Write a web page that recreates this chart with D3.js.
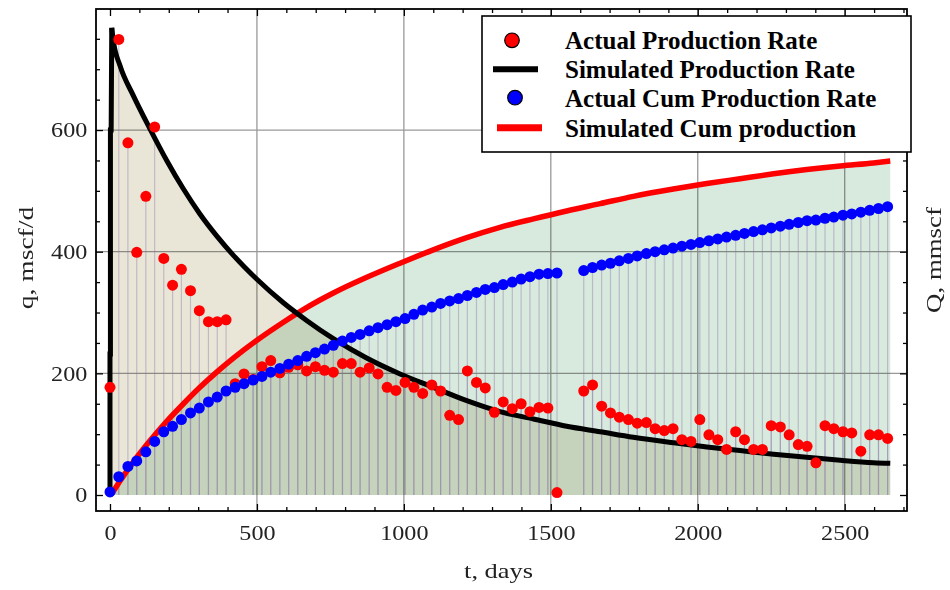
<!DOCTYPE html>
<html>
<head>
<meta charset="utf-8">
<title>Production Rate and Cumulative Production</title>
<script src="https://d3js.org/d3.v7.min.js"></script>
<style>
    body { margin: 0; background: #fff; }
    svg { display: block; font-family: "Liberation Serif", "Times New Roman", serif; }
    .fill { mix-blend-mode: multiply; }
    .drop { stroke: #8a76a6; stroke-opacity: 0.4; stroke-width: 1.2; }
    .grid { stroke: #999; stroke-width: 1.3; }
</style>
</head>
<body>
<div id="chart"></div>
<script>
// monthly sample days
const days = [0, 30, 61, 91, 122, 152, 183, 213, 243, 274, 304, 335, 365, 395, 426, 456, 487, 517, 547, 578,
    608, 639, 669, 699, 730, 760, 791, 821, 851, 882, 912, 943, 973, 1004, 1034, 1064, 1095, 1125, 1156, 1186,
    1216, 1247, 1277, 1308, 1338, 1369, 1399, 1429, 1460, 1490, 1521, 1551, 1581, 1612, 1642, 1673, 1703, 1733, 1764, 1794,
    1825, 1855, 1886, 1916, 1946, 1977, 2007, 2038, 2068, 2098, 2129, 2159, 2190, 2220, 2250, 2281, 2311, 2342, 2372, 2402,
    2433, 2463, 2494, 2524, 2555, 2585, 2615, 2646];

// actual production rate, mscf/d (null = no record)
const actualRate = [177, 749, 579, 399, 491, 605, 389, 345, 371, 336, 303, 285, 285, 288, 183, 199, 190, 211, 221, 201,
    210, 214, 204, 211, 205, 202, 216, 216, 202, 209, 199, 177, 172, 185, 177, 167, 181, 171, 131, 124,
    204, 185, 176, 136, 153, 142, 150, 137, 144, 143, 4, null, null, 171, 181, 146, 135, 128, 124, 118,
    119, 109, 106, 109, 91, 88, 124, 99, 91, 75, 104, 91, 75, 75, 114, 112, 99, 83, 80, 53,
    114, 109, 104, 102, 72, 99, 99, 93];

// actual cumulative production, mmscf
const actualCum = [5, 30, 47, 56, 71, 88, 104, 113, 124, 135, 143, 153, 161, 171, 177, 183, 189, 195, 202, 208,
    215, 221, 228, 234, 240, 246, 253, 259, 264, 270, 275, 280, 285, 290, 297, 304, 309, 315, 319, 323,
    328, 333, 338, 341, 346, 350, 355, 359, 363, 364, 365, null, null, 369, 374, 378, 381, 385, 389, 393,
    397, 400, 403, 406, 409, 412, 415, 418, 421, 424, 427, 430, 433, 436, 439, 442, 445, 448, 451, 452,
    455, 457, 460, 462, 465, 468, 471, 474];

// simulated production rate (start-up steps, then decline)
const simStartT = [0, 0, 1.5, 1.5, 4, 6];
const simStartQ = [0, 232, 232, 600, 600, 768];
const simRateT = [6, 12, 34, 79, 136, 193, 250, 306, 363, 420, 499, 590, 669, 760, 870, 987, 1100, 1214, 1327, 1441,
    1554, 1668, 1781, 1917, 2031, 2144, 2258, 2371, 2485, 2598, 2655];
const simRateQ = [768, 745, 706, 657, 602, 550, 503, 462, 426, 394, 355, 316, 287, 257, 226, 199, 177, 155, 137, 125,
    113, 104, 95, 86, 79, 73, 67, 62, 57, 53, 52];

// simulated cumulative production
const simCumT = [0, 6, 34, 79, 136, 193, 250, 306, 363, 420, 499, 590, 669, 760, 870, 987, 1100, 1214, 1327, 1441,
    1554, 1668, 1781, 1917, 2031, 2144, 2258, 2371, 2485, 2598, 2655];
const simCumQ = [0, 3, 23, 54, 89, 121, 150, 177, 202, 225, 254, 284, 308, 332, 357, 381, 403, 423, 440, 454,
    467, 479, 491, 503, 512, 520, 528, 535, 541, 546, 549];

const xMajor = [0, 500, 1000, 1500, 2000, 2500];
const xMinor = d3.range(0, 2701, 100).filter(v => v % 500 !== 0);
const yMajor = [0, 200, 400, 600];
const yMinor = d3.range(0, 751, 50).filter(v => v % 200 !== 0);

const legendItems = [
    { label: 'Actual Production Rate', kind: 'dot', color: '#ff0000' },
    { label: 'Simulated Production Rate', kind: 'line', color: '#000000' },
    { label: 'Actual Cum Production Rate', kind: 'dot', color: '#0000ff' },
    { label: 'Simulated Cum production', kind: 'line', color: '#ff0000' }
];

const width = 950, height = 590;
const box = { left: 96, top: 9, right: 907, bottom: 511 };

const svg = d3.select('#chart').append('svg')
    .attr('width', width)
    .attr('height', height);

const x = d3.scaleLinear().domain([-47.6, 2712]).range([box.left, box.right]);
const y = d3.scaleLinear().domain([-26.3, 799]).range([box.bottom, box.top]);

// grid
const grid = svg.append('g');
grid.selectAll('.gx').data(xMajor.filter(v => v > 0)).enter().append('line')
    .attr('class', 'grid')
    .attr('x1', d => x(d)).attr('x2', d => x(d))
    .attr('y1', box.top).attr('y2', box.bottom);
grid.selectAll('.gy').data(yMajor.filter(v => v > 0)).enter().append('line')
    .attr('class', 'grid')
    .attr('x1', box.left).attr('x2', box.right)
    .attr('y1', d => y(d)).attr('y2', d => y(d));

const rateStart = simStartT.map((t, i) => [t, simStartQ[i]]);
const rateLine = simRateT.map((t, i) => [t, simRateQ[i]]);
const cumLine = simCumT.map((t, i) => [t, simCumQ[i]]);

// filled areas under the simulated curves
const area = d3.area().x(d => x(d[0])).y0(y(0)).y1(d => y(d[1]));
svg.append('path')
    .attr('class', 'fill')
    .attr('d', area.curve(d3.curveLinear)(rateStart.concat(rateLine.slice(1))))
    .attr('fill', '#e9e6d8');
svg.append('path')
    .attr('class', 'fill')
    .attr('d', area.curve(d3.curveMonotoneX)(cumLine))
    .attr('fill', '#d8e9de');

// drop lines from the measured points
const drops = svg.append('g');
[actualRate, actualCum].forEach(series => {
    drops.selectAll(null)
        .data(days.map((t, i) => [t, series[i]]).filter(d => d[1] !== null))
        .enter().append('line')
        .attr('class', 'drop')
        .attr('x1', d => x(d[0])).attr('x2', d => x(d[0]))
        .attr('y1', y(0)).attr('y2', d => y(d[1]));
});

// simulated curves
const line = d3.line().x(d => x(d[0])).y(d => y(d[1]));
svg.append('path')
    .attr('d', line.curve(d3.curveMonotoneX)(cumLine))
    .attr('fill', 'none').attr('stroke', '#ff0000').attr('stroke-width', 5.5);
svg.append('path')
    .attr('d', line.curve(d3.curveLinear)(rateStart))
    .attr('fill', 'none').attr('stroke', '#000').attr('stroke-width', 5);
svg.append('path')
    .attr('d', line.curve(d3.curveMonotoneX)(rateLine))
    .attr('fill', 'none').attr('stroke', '#000').attr('stroke-width', 5)
    .attr('stroke-linejoin', 'round');

// measured points
svg.append('g').selectAll('circle')
    .data(days.map((t, i) => [t, actualRate[i]]).filter(d => d[1] !== null))
    .enter().append('circle')
    .attr('cx', d => x(d[0])).attr('cy', d => y(d[1]))
    .attr('r', 5.5).attr('fill', '#ff0000');
svg.append('g').selectAll('circle')
    .data(days.map((t, i) => [t, actualCum[i]]).filter(d => d[1] !== null))
    .enter().append('circle')
    .attr('cx', d => x(d[0])).attr('cy', d => y(d[1]))
    .attr('r', 5.5).attr('fill', '#0000ff');

// frame
svg.append('rect')
    .attr('x', box.left).attr('y', box.top)
    .attr('width', box.right - box.left).attr('height', box.bottom - box.top)
    .attr('fill', 'none').attr('stroke', '#000').attr('stroke-width', 1.8);

function ticks(axis, values, size, pos, labels) {
    const g = svg.append('g')
        .attr('transform', pos)
        .call(axis.tickValues(values).tickSize(-size).tickFormat(labels ? d3.format('d') : ''));
    g.select('.domain').remove();
    g.selectAll('line').attr('stroke', '#000').attr('stroke-width', 1.3);
    return g;
}

const bottom = ticks(d3.axisBottom(x).tickPadding(14), xMajor, 7, `translate(0,${box.bottom})`, true);
ticks(d3.axisBottom(x), xMinor, 4, `translate(0,${box.bottom})`, false);
ticks(d3.axisTop(x), xMajor, 7, `translate(0,${box.top})`, false);
ticks(d3.axisTop(x), xMinor, 4, `translate(0,${box.top})`, false);
const left = ticks(d3.axisLeft(y).tickPadding(7.6), yMajor, 7, `translate(${box.left},0)`, true);
ticks(d3.axisLeft(y), yMinor, 4, `translate(${box.left},0)`, false);
ticks(d3.axisRight(y), yMajor, 7, `translate(${box.right},0)`, false);
ticks(d3.axisRight(y), yMinor, 4, `translate(${box.right},0)`, false);

[bottom, left].forEach(g => g.selectAll('text')
    .attr('font-family', '"Liberation Serif", serif')
    .attr('font-size', 21)
    .attr('fill', '#222')
    .attr('transform', 'scale(1.15,1)'));

// axis titles
svg.append('text')
    .attr('transform', `translate(${(box.left + box.right) / 2 - 3},578) scale(1.2,1)`)
    .attr('text-anchor', 'middle').attr('font-size', 22).attr('fill', '#222')
    .text('t, days');
svg.append('text')
    .attr('transform', `translate(33,258) rotate(-90) scale(1.25,1)`)
    .attr('text-anchor', 'middle').attr('font-size', 22).attr('fill', '#222')
    .text('q, mscf/d');
svg.append('text')
    .attr('transform', `translate(941,260) rotate(-90) scale(1.22,1)`)
    .attr('text-anchor', 'middle').attr('font-size', 22).attr('fill', '#222')
    .text('Q, mmscf');

// legend
const legend = svg.append('g');
legend.append('rect')
    .attr('x', 482).attr('y', 16).attr('width', 429).attr('height', 136)
    .attr('fill', '#fff').attr('stroke', '#000').attr('stroke-width', 1.6);
const rowBase = [49.3, 78.3, 106.7, 136.7];
legendItems.forEach((item, i) => {
    const cy = rowBase[i] - 9;
    if (item.kind === 'dot') {
        legend.append('circle')
            .attr('cx', i === 0 ? 512 : 515).attr('cy', cy).attr('r', 7.3)
            .attr('fill', item.color).attr('stroke', '#000').attr('stroke-width', 1.2);
    } else {
        legend.append('line')
            .attr('x1', i === 1 ? 493 : 497).attr('x2', i === 1 ? 538 : 542)
            .attr('y1', cy).attr('y2', cy)
            .attr('stroke', item.color).attr('stroke-width', i === 1 ? 6 : 7);
    }
    legend.append('text')
        .attr('x', 565).attr('y', rowBase[i])
        .attr('font-size', 25).attr('font-weight', 'bold')
        .text(item.label);
});
</script>
</body>
</html>
